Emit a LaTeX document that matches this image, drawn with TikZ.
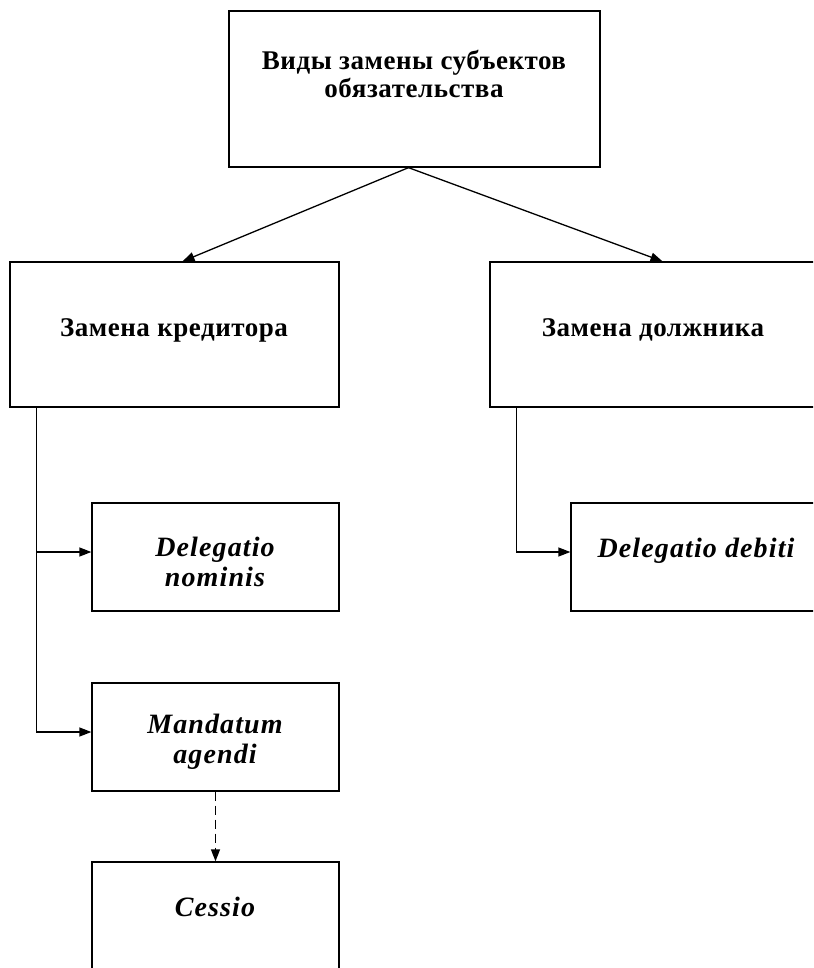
\documentclass[tikz,border=0pt]{standalone}
\usepackage{fontspec}
\setmainfont{Liberation Serif}
\usetikzlibrary{arrows.meta}
\tikzset{
  box/.style={draw, line width=1.3pt, minimum width=247pt, minimum height=108pt, inner sep=0pt},
  bigbox/.style={box, minimum width=329pt, minimum height=145pt},
  ttl/.style={font=\fontsize{27}{28}\selectfont\bfseries\addfontfeature{LetterSpace=2}, align=center, inner sep=0pt},
  lat/.style={font=\fontsize{28}{30}\selectfont\bfseries\itshape\addfontfeature{LetterSpace=4}, align=center, inner sep=0pt},
  conn/.style={line width=1.3pt, -{Triangle[length=12pt,width=9pt]}}
}
\begin{document}
\begin{tikzpicture}[x=1pt,y=-1pt]
    \clip (0,0) rectangle (813,968);
    % boxes
    \node[box, minimum width=371pt, minimum height=156pt] (vidy) at (414.5, 89) {};
    \node[bigbox] (kred) at (174.5, 334.5) {};
    \node[bigbox] (dolzh) at (654.5, 334.5) {};
    \node[box] (nomin) at (215.5, 557) {};
    \node[box] (mand) at (215.5, 737) {};
    \node[box] (cess) at (215.5, 916) {};
    \node[box] (debit) at (694.5, 557) {};
    % texts
    \node[ttl] at (414, 74) {Виды замены субъектов\\обязательства};
    \node[ttl] at (174, 330) {Замена кредитора};
    \node[ttl] at (653, 330) {Замена должника};
    \node[lat] at (215, 562) {Delegatio\\nominis};
    \node[lat] at (215, 742) {Mandatum\\agendi};
    \node[lat] at (696, 551) {Delegatio debiti};
    \node[lat] at (215, 907) {Cessio};
    % connectors
    \draw[conn] ([xshift=-6pt]vidy.south) -- ([xshift=8pt]kred.north);
    \draw[conn] ([xshift=-6pt]vidy.south) -- ([xshift=8pt]dolzh.north);
    \coordinate (lstem) at ([xshift=27pt]kred.south west);
    \coordinate (rstem) at ([xshift=27pt]dolzh.south west);
    \draw[conn] (lstem) |- ([yshift=5pt]mand.west);
    \draw[conn] ([yshift=5pt]nomin.west -| lstem) -- ([yshift=5pt]nomin.west);
    \draw[conn] (rstem) |- ([yshift=5pt]debit.west);
    \draw[conn, dash pattern=on 9pt off 5pt] (mand.south) -- (cess.north);
\end{tikzpicture}
\end{document}
